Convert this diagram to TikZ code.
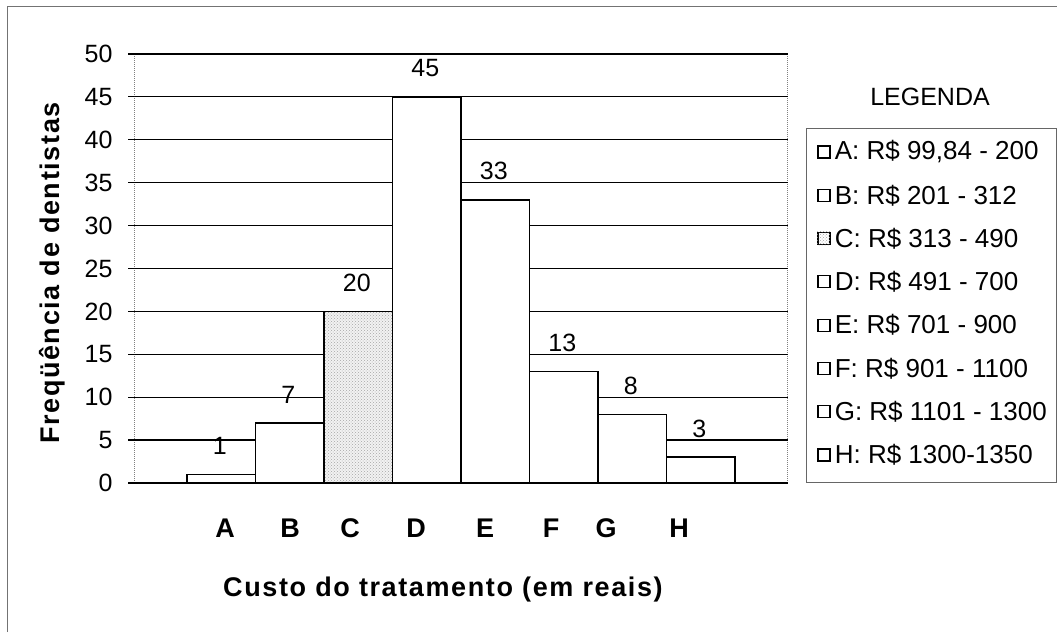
\documentclass[tikz,border=0pt]{standalone}
\usepackage{fontspec}
\setmainfont{Liberation Sans}
\newfontfamily\spaced[LetterSpace = 6]{Liberation Sans}
\usetikzlibrary{positioning}
\usetikzlibrary{patterns}

\begin{document}
\begin{tikzpicture}[x = 1pt, y = 1pt,
		txt/.style = {font = \fontsize{25}{30}\selectfont, inner sep = 0pt},
		legtxt/.style = {font = \fontsize{26}{30}\selectfont, inner sep = 0pt},
		boldtxt/.style = {font = \fontsize{27}{32}\selectfont\bfseries, inner sep = 0pt},
		bar/.style = {draw = black, line width = 1.6pt, fill = white},
		gridline/.style = {black, line width = 1.2pt},
		key/.style = {draw = black, line width = 1.2pt, minimum size = 12pt, inner sep = 0pt}]
	\useasboundingbox (0, 0) rectangle (1057, 632);
	\draw[black!55, line width = 1pt] (7, 0)--(7, 625)--(1057, 625);
	\begin{scope}[shift = {(187, 149)}, x = 68.5pt, y = 8.58pt]
		\draw[black!50, line width = 1pt, densely dotted] (-0.76, 0)--(-0.76, 50);
		\draw[black!50, line width = 1pt, densely dotted] (8.77, 0)--(8.77, 50);
		\foreach \v in {0, 5, ..., 50}
			\draw[gridline] (-0.86, \v)--(8.77, \v) node (tick\v) at (-1.08, \v) [txt, anchor = east] {\v};
		\foreach \v [count = \i from 0] in {1, 7, 20, 45, 33, 13, 8, 3}
			\draw[bar] (\i, 0) rectangle (\i + 1, \v) node (val\i) at (\i + 0.48, \v) [txt, above = 19pt] {\v};
		\fill[black!5] (2, 0) rectangle (3, 20);
		\fill[pattern = crosshatch dots, pattern color = black!35] (2, 0) rectangle (3, 20);
		\draw[bar, fill = none] (2, 0) rectangle (3, 20);
	\end{scope}
	\foreach \x/\c in {225/A, 290/B, 350/C, 416/D, 485/E, 551/F, 606/G, 679/H}
		\node (cat\c) at (\x, 104) [boldtxt] {\c};
	\node (xtitle) at (223, 42) [boldtxt, anchor = west] {\spaced Custo do tratamento (em reais)};
	\node (ytitle) at (52, 359) [boldtxt, rotate = 90] {\spaced Freqüência de dentistas};
	\node (legtitle) at (930, 535) [txt] {LEGENDA};
	\draw[black!60, line width = 1pt] (806, 149) rectangle (1056, 503);
	\foreach \c/\t [count = \i from 0] in {A/{R\$ 99,84 - 200}, B/{R\$ 201 - 312}, C/{R\$ 313 - 490}, D/{R\$ 491 - 700}, E/{R\$ 701 - 900}, F/{R\$ 901 - 1100}, G/{R\$ 1101 - 1300}, H/{R\$ 1300-1350}}
		\node (key\c) at (824, 480 - 43.3 * \i) [key] {} node (leg\c) [legtxt, right = 4pt of key\c] {\c: \t};
	\fill[pattern = crosshatch dots, pattern color = black!35] (keyC.south west) rectangle (keyC.north east);
\end{tikzpicture}
\end{document}
